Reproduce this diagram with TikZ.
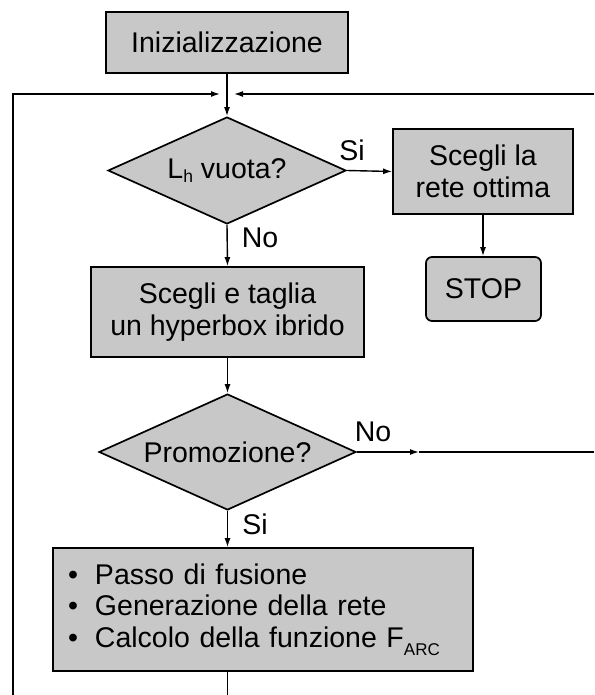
\documentclass[tikz,border=0pt]{standalone}
\usepackage{fontspec}
\setmainfont{Liberation Sans}
\usetikzlibrary{shapes.geometric,arrows.meta}
\definecolor{boxgray}{RGB}{200,200,200}
\begin{document}
\begin{tikzpicture}[x=1pt,y=-1pt,
  every node/.style={font=\fontsize{28.5}{32}\selectfont, inner sep=0pt},
  procbox/.style={draw=black, line width=1.7pt, fill=boxgray, rectangle, align=center},
  decbox/.style={draw=black, line width=1.7pt, fill=boxgray, diamond, aspect=2.22},
  termbox/.style={draw=black, line width=1.7pt, fill=boxgray, rectangle, rounded corners=6pt},
  flow/.style={line width=1.4pt, -{Latex[length=9pt,width=6pt]}},
  plainline/.style={line width=1.4pt}
]
\useasboundingbox (0,0) rectangle (594,695);

% nodes
\node[procbox, minimum width=242pt, minimum height=61pt] (init) at (227,42.5) {Inizializzazione};
\node[decbox, minimum width=238pt, minimum height=107pt] (d1) at (227,170.5)
  {L\raisebox{-4pt}{\fontsize{17.5}{17.5}\selectfont h} vuota?};
\node[procbox, minimum width=180pt, minimum height=85pt] (opt) at (483,171.5) {Scegli la\\rete ottima};
\node[termbox, minimum width=115pt, minimum height=64pt] (stop) at (483.5,289) {STOP};
\node[procbox, minimum width=273pt, minimum height=90pt] (cut) at (227.5,312) {Scegli e taglia\\un hyperbox ibrido};
\node[decbox, minimum width=257pt, minimum height=116pt] (d2) at (227.5,452) {Promozione?};
\node[procbox, align=left, text width=390pt, minimum width=420pt, minimum height=123pt,
      font=\fontsize{28.5}{31.5}\selectfont] (ops) at (263,609.5)
  {\makebox[27pt][l]{•}Passo di fusione\\
   \makebox[27pt][l]{•}Generazione della rete\\
   \makebox[27pt][l]{•}Calcolo della funzione F\raisebox{-8pt}{\fontsize{17}{17}\selectfont ARC}};

% labels
\node (si1) at (352,150) {Si};
\node (no1) at (260,238) {No};
\node (no2) at (373,432) {No};
\node (si2) at (255,524) {Si};

% free ends
\coordinate (lbot) at (13,695);
\coordinate (lcorner) at (13,94);
\coordinate (ltip) at (220,94);
\coordinate (rin) at (594,94);
\coordinate (rtip) at (234,94);
\coordinate (nomid) at (419,452);
\coordinate (noend) at (594,452);
\coordinate (bout) at (227.5,695);

% connectors
\draw[flow] (init.south) -- (d1.north);
\draw[flow] (lbot) -- (lcorner) -- (ltip);
\draw[flow] (rin) -- (rtip);
\draw[flow] (d1.east) -- (opt.west);
\draw[flow] (opt.south) -- (opt.south |- stop.north);
\draw[flow] (d1.south) -- (cut.north);
\draw[flow] (cut.south) -- (d2.north);
\draw[flow] (d2.east) -- (nomid);
\draw[plainline] (nomid) -- (noend);
\draw[flow] (d2.south) -- (d2.south |- ops.north);
\draw[plainline] (bout |- ops.south) -- (bout);
\end{tikzpicture}
\end{document}
